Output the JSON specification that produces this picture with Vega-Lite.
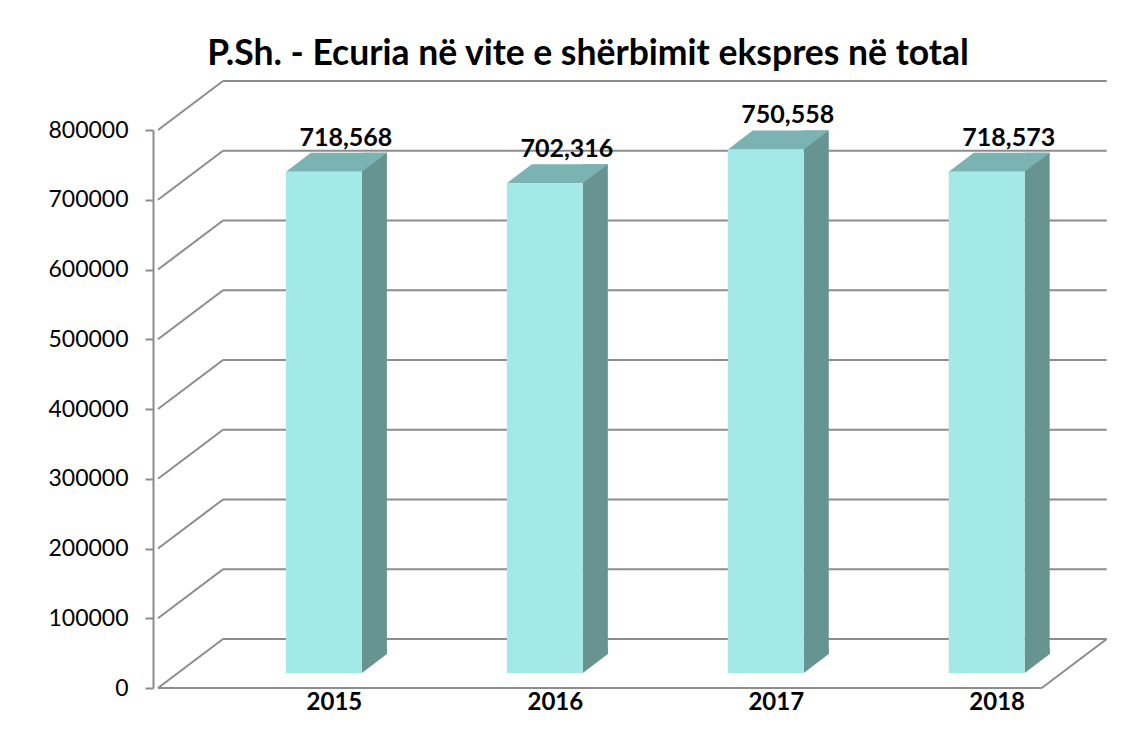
{
  "$schema": "https://vega.github.io/schema/vega-lite/v6.json",
  "width": 960,
  "height": 558,
  "autosize": {"type": "none"},
  "padding": {"left": 153, "top": 130, "right": 30, "bottom": 46},
  "background": "white",
  "config": {
    "view": {"stroke": null},
    "font": "Lato",
    "axis": {"grid": false, "title": null}
  },
  "title": {
    "text": "P.Sh. - Ecuria në vite e shërbimit ekspres në total",
    "font": "Lato",
    "fontSize": 35.5,
    "fontWeight": "bold",
    "color": "#000000",
    "anchor": "middle",
    "dx": -45,
    "offset": 8
  },
  "datasets": {
    "sales": [
      {"year": 2015, "value": 718568},
      {"year": 2016, "value": 702316},
      {"year": 2017, "value": 750558},
      {"year": 2018, "value": 718573}
    ],
    "grid": [
      {"tick": 0}, {"tick": 100000}, {"tick": 200000}, {"tick": 300000}, {"tick": 400000},
      {"tick": 500000}, {"tick": 600000}, {"tick": 700000}, {"tick": 800000}
    ]
  },
  "resolve": {"scale": {"x": "shared", "y": "shared"}},
  "layer": [
    {
      "data": {"name": "grid"},
      "mark": {"type": "rule", "color": "#8c8c8c", "strokeWidth": 2, "x2Offset": 65, "y2Offset": -49},
      "encoding": {
        "x": {"datum": 2014.24, "type": "quantitative", "scale": {"domain": [2014.24, 2018.54], "nice": false, "zero": false}, "title": null},
        "x2": {"datum": 2014.24},
        "y": {"field": "tick", "type": "quantitative", "scale": {"domain": [0, 800000], "nice": false}, "title": null},
        "y2": {"field": "tick"}
      }
    },
    {
      "data": {"name": "grid"},
      "mark": {"type": "rule", "color": "#8c8c8c", "strokeWidth": 2, "xOffset": 65, "x2Offset": 65, "yOffset": -49, "y2Offset": -49},
      "encoding": {
        "x": {"datum": 2014.24, "type": "quantitative", "title": null},
        "x2": {"datum": 2018.24},
        "y": {"field": "tick", "type": "quantitative", "title": null},
        "y2": {"field": "tick"}
      }
    },
    {
      "data": {"name": "grid"},
      "transform": [{"filter": "datum.tick === 0"}],
      "mark": {"type": "rule", "color": "#8c8c8c", "strokeWidth": 2},
      "encoding": {
        "x": {"datum": 2014.24, "type": "quantitative", "title": null},
        "x2": {"datum": 2018.24},
        "y": {"field": "tick", "type": "quantitative", "title": null},
        "y2": {"field": "tick"}
      }
    },
    {
      "data": {"name": "grid"},
      "transform": [{"filter": "datum.tick === 0"}],
      "mark": {"type": "rule", "color": "#8c8c8c", "strokeWidth": 2, "x2Offset": 65, "y2Offset": -49},
      "encoding": {
        "x": {"datum": 2018.24, "type": "quantitative", "title": null},
        "x2": {"datum": 2018.24},
        "y": {"field": "tick", "type": "quantitative", "title": null},
        "y2": {"field": "tick"}
      }
    },
    {
      "data": {"name": "sales"},
      "mark": {"type": "bar", "width": 25, "xOffset": 48.5, "yOffset": -34, "y2Offset": -34, "color": "#679390"},
      "encoding": {
        "x": {"field": "year", "type": "quantitative", "title": null},
        "y": {"field": "value", "type": "quantitative", "title": null},
        "y2": {"datum": 0}
      }
    },
    {
      "data": {"name": "sales"},
      "mark": {"type": "point", "shape": "M36,-40 L36,-15 L61,-34 L61,-40 Z", "size": 4, "filled": true, "opacity": 1, "strokeWidth": 0, "color": "#679390"},
      "encoding": {
        "x": {"field": "year", "type": "quantitative", "title": null},
        "y": {"datum": 0, "type": "quantitative", "title": null}
      }
    },
    {
      "data": {"name": "sales"},
      "mark": {"type": "point", "shape": "M-40,-15 L36,-15 L61,-34 L-15,-34 Z", "size": 4, "filled": true, "opacity": 1, "strokeWidth": 0, "color": "#7bb3b2"},
      "encoding": {
        "x": {"field": "year", "type": "quantitative", "title": null},
        "y": {"field": "value", "type": "quantitative", "title": null}
      }
    },
    {
      "data": {"name": "sales"},
      "mark": {"type": "bar", "width": 76, "xOffset": -2, "yOffset": -15, "y2Offset": -15, "color": "#a2e9e8"},
      "encoding": {
        "x": {
          "field": "year", "type": "quantitative", "title": null,
          "axis": {"values": [2015, 2016, 2017, 2018], "format": "d", "domain": false, "ticks": false, "labelFont": "Lato", "labelFontSize": 24, "labelFontWeight": "bold", "labelColor": "#000000", "labelPadding": 2, "labelOffset": 8}
        },
        "y": {
          "field": "value", "type": "quantitative", "title": null,
          "axis": {"values": [0, 100000, 200000, 300000, 400000, 500000, 600000, 700000, 800000], "format": "d", "domain": true, "domainColor": "#8c8c8c", "domainWidth": 2, "ticks": true, "tickColor": "#8c8c8c", "tickWidth": 2, "tickSize": 8, "labelFont": "Lato", "labelFontSize": 23, "labelFontWeight": "normal", "labelColor": "#000000", "labelPadding": 17}
        },
        "y2": {"datum": 0}
      }
    },
    {
      "data": {"name": "sales"},
      "mark": {"type": "text", "font": "Lato", "fontSize": 25, "fontWeight": "bold", "baseline": "bottom", "xOffset": 20, "yOffset": -36, "color": "#000000"},
      "encoding": {
        "x": {"field": "year", "type": "quantitative", "title": null},
        "y": {"field": "value", "type": "quantitative", "title": null},
        "text": {"field": "value", "type": "quantitative", "format": ",d"}
      }
    }
  ]
}
